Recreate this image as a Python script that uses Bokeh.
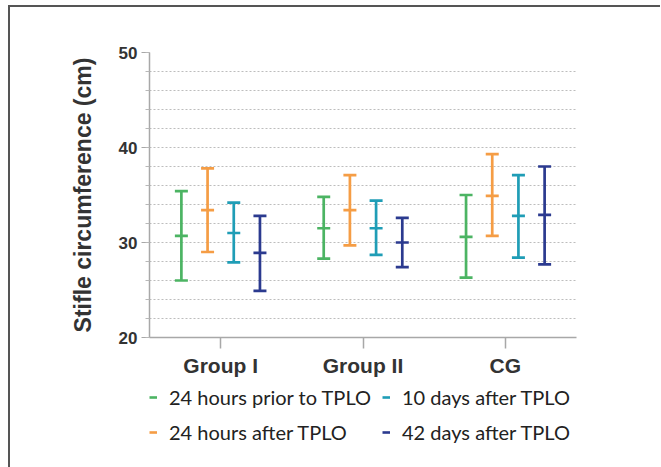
from bokeh.plotting import figure
from bokeh.layouts import column
from bokeh.models import (ColumnDataSource, FactorRange, FixedTicker, Legend, LegendItem, Range1d)
from bokeh.transform import dodge
from bokeh.embed import file_html
from bokeh.resources import INLINE

groups = ["Group I", "Group II", "CG"]
series_names = ["24 hours prior to TPLO", "24 hours after TPLO", "10 days after TPLO", "42 days after TPLO"]
series_colors = ["#4cb463", "#f59d45", "#1f9db6", "#2b3a8f"]
offsets = [-0.276, -0.092, 0.092, 0.276]

prior_mean = [30.7, 31.5, 30.6]
prior_hi = [35.4, 34.8, 35.0]
prior_lo = [26.0, 28.3, 26.3]

after24_mean = [33.4, 33.4, 34.9]
after24_hi = [37.8, 37.1, 39.3]
after24_lo = [29.0, 29.7, 30.7]

d10_mean = [31.0, 31.5, 32.8]
d10_hi = [34.2, 34.4, 37.1]
d10_lo = [27.9, 28.7, 28.4]

d42_mean = [28.9, 30.0, 32.9]
d42_hi = [32.8, 32.6, 38.0]
d42_lo = [24.9, 27.4, 27.7]

y_ticks = [20, 30, 40, 50]
y_grid = list(range(22, 51, 2))
y_minor = list(range(20, 51, 2))

means = [prior_mean, after24_mean, d10_mean, d42_mean]
his = [prior_hi, after24_hi, d10_hi, d42_hi]
los = [prior_lo, after24_lo, d10_lo, d42_lo]

p = figure(x_range=FactorRange(*groups, range_padding=0), y_range=Range1d(20, 50),
           frame_width=427, frame_height=285, output_backend="svg", toolbar_location=None,
           min_border_left=135, min_border_top=45, min_border_right=88, min_border_bottom=30)
p.outline_line_color = None
p.background_fill_color = "white"

# legend-only strip under the chart
q = figure(x_range=FactorRange(*groups, range_padding=0), y_range=Range1d(0, 1),
           width=650, height=88, output_backend="svg", toolbar_location=None,
           x_axis_location=None, y_axis_location=None,
           min_border_left=139, min_border_top=6, min_border_right=0, min_border_bottom=0)
q.outline_line_color = None
q.xgrid.grid_line_color = None
q.ygrid.grid_line_color = None

items = []
for name, color, off, m, hi, lo in zip(series_names, series_colors, offsets, means, his, los):
    src = ColumnDataSource(dict(group=groups, mean=m, hi=hi, lo=lo))
    xd = dodge("group", off, range=p.x_range)
    p.segment(x0=xd, y0="lo", x1=xd, y1="hi", source=src, line_color=color, line_width=2.7)
    for col in ["hi", "lo", "mean"]:
        p.scatter(x=xd, y=col, source=src, marker="dash", size=13, line_color=color, line_width=2.7)
    xq = dodge("group", off, range=q.x_range)
    seg_q = q.segment(x0=xq, y0="lo", x1=xq, y1="hi", source=src, line_color=color, line_width=2.6)
    items.append(LegendItem(label=name, renderers=[seg_q]))

legend = Legend(items=items, ncols=2, nrows=2, orientation="vertical", location="top_left",
                glyph_width=8, glyph_height=20, label_height=20, label_width=199, label_standoff=12,
                spacing=11, padding=8, margin=0,
                label_text_font="Lato", label_text_font_size="20px", label_text_color="#222222",
                background_fill_alpha=0, border_line_color=None)
q.add_layout(legend, "center")

# y axis
p.yaxis.ticker = FixedTicker(ticks=y_ticks, minor_ticks=y_minor)
p.yaxis.axis_label = "Stifle circumference (cm)"
p.yaxis.axis_label_text_font = "Liberation Sans"
p.yaxis.axis_label_text_font_style = "bold"
p.yaxis.axis_label_text_font_size = "23px"
p.yaxis.axis_label_text_color = "#333333"
p.yaxis.axis_label_standoff = 20
p.yaxis.major_label_text_font = "Liberation Sans"
p.yaxis.major_label_text_font_style = "bold"
p.yaxis.major_label_text_font_size = "17px"
p.yaxis.major_label_text_color = "#333333"
p.yaxis.major_label_standoff = 4
p.yaxis.axis_line_color = "#a8a8a8"
p.yaxis.axis_line_width = 1.5
p.yaxis.major_tick_line_color = "#a8a8a8"
p.yaxis.major_tick_out = 8
p.yaxis.major_tick_in = 0
p.yaxis.minor_tick_line_color = "#b8b8b8"
p.yaxis.minor_tick_out = 4
p.yaxis.minor_tick_in = 0

# x axis
p.xaxis.major_label_text_font = "Liberation Sans"
p.xaxis.major_label_text_font_style = "bold"
p.xaxis.major_label_text_font_size = "21px"
p.xaxis.major_label_text_color = "#333333"
p.xaxis.major_label_standoff = 5
p.xaxis.axis_line_color = "#a8a8a8"
p.xaxis.axis_line_width = 1.5
p.xaxis.major_tick_line_color = "#a8a8a8"
p.xaxis.major_tick_line_width = 1.5
p.xaxis.major_tick_out = 11
p.xaxis.major_tick_in = 0
p.xaxis.minor_tick_line_color = None

# grid
p.xgrid.grid_line_color = None
p.ygrid.ticker = FixedTicker(ticks=y_grid)
p.ygrid.grid_line_color = "#bdbdbd"
p.ygrid.grid_line_dash = "2 2"
p.ygrid.grid_line_width = 1

layout = column(p, q, spacing=0,
                styles={"border-left": "2px solid #555555", "border-top": "2px solid #555555",
                        "margin-left": "8px", "margin-top": "5px"})

open("out.html", "w").write(file_html(layout, INLINE))
